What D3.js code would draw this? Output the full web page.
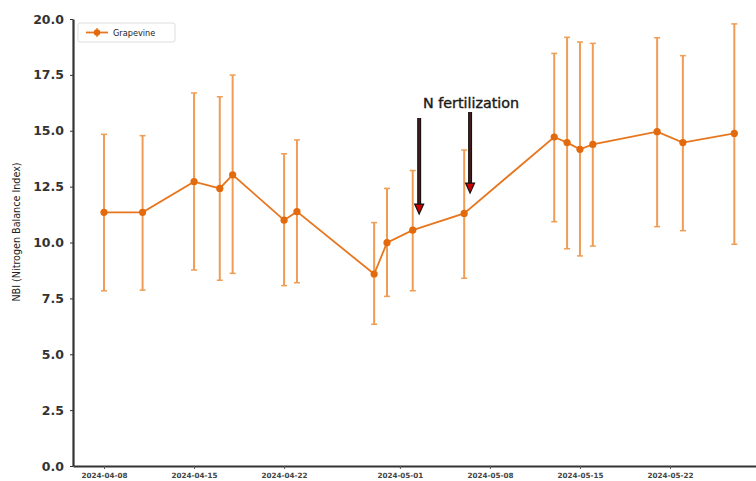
<!DOCTYPE html>
<html><head><meta charset="utf-8">
<script src="https://cdn.jsdelivr.net/npm/d3@7"></script>
<style>html,body{margin:0;padding:0;background:#fff;}svg{display:block;}</style>
</head><body>
<svg id="chart" width="756" height="481"></svg>
<script>
const dates = ["2024-04-08","2024-04-11","2024-04-15","2024-04-17","2024-04-18","2024-04-22","2024-04-23","2024-04-29","2024-04-30","2024-05-02","2024-05-06","2024-05-13","2024-05-14","2024-05-15","2024-05-16","2024-05-21","2024-05-23","2024-05-27"];
const nbiMean = [11.35,11.35,12.72,12.42,13.03,11.0,11.38,8.59,9.99,10.55,11.3,14.72,14.47,14.17,14.39,14.96,14.47,14.88];
const nbiLow  = [7.84,7.87,8.77,8.31,8.62,8.07,8.2,6.34,7.59,7.84,8.4,10.93,9.72,9.4,9.84,10.71,10.53,9.92];
const nbiHigh = [14.84,14.78,16.69,16.52,17.49,13.97,14.59,10.89,12.42,13.22,14.14,18.46,19.18,18.97,18.91,19.16,18.36,19.78];
const xTickLabels = ["2024-04-08","2024-04-15","2024-04-22","2024-05-01","2024-05-08","2024-05-15","2024-05-22"];
const yTicks = [0,2.5,5,7.5,10,12.5,15,17.5,20];
const seriesName = "Grapevine";
const annotationText = "N fertilization";
const arrowDates = ["2024-05-02T12:00","2024-05-06T11:00"];
const arrowTails = [15.57,15.84];
const arrowTips = [11.27,12.21];

const parse = d3.timeParse("%Y-%m-%d");
const parseT = d3.timeParse("%Y-%m-%dT%H:%M");
const svg = d3.select("#chart");
const lineColor = "#e8761e", barColor = "#ef9d55", dotColor = "#e26a0d";

const x0 = d3.scaleTime().domain([parse("2024-04-08"), parse("2024-05-22")]).range([104, 670]);
const x = d3.scaleTime().domain([x0.invert(73), x0.invert(760)]).range([73, 760]);
const y = d3.scaleLinear().domain([0, 20]).range([466, 19]);

const data = dates.map((d,i)=>({d:parse(d), m:nbiMean[i], lo:nbiLow[i], hi:nbiHigh[i]}));

// error bars
const eb = svg.append("g");
data.forEach(p=>{
  const cx = x(p.d);
  eb.append("line").attr("x1",cx).attr("x2",cx).attr("y1",y(p.lo)).attr("y2",y(p.hi))
    .attr("stroke",barColor).attr("stroke-width",2);
  [p.lo,p.hi].forEach(v=>eb.append("line").attr("x1",cx-3).attr("x2",cx+3).attr("y1",y(v)).attr("y2",y(v))
    .attr("stroke",barColor).attr("stroke-width",1.5));
});
// line
svg.append("path").datum(data)
  .attr("d", d3.line().x(p=>x(p.d)).y(p=>y(p.m)))
  .attr("fill","none").attr("stroke",lineColor).attr("stroke-width",1.8);
svg.append("g").selectAll("circle").data(data).join("circle")
  .attr("cx",p=>x(p.d)).attr("cy",p=>y(p.m)).attr("r",3.6).attr("fill",dotColor);

// axes
const yAxis = d3.axisLeft(y).tickValues(yTicks).tickFormat(d3.format(".1f")).tickSize(3).tickSizeOuter(0);
const gy = svg.append("g").attr("transform","translate(73,0)").call(yAxis);
gy.select(".domain").attr("stroke","#333").attr("stroke-width",2.2);
gy.selectAll(".tick line").attr("stroke","#333");
gy.selectAll(".tick text").attr("font-family","DejaVu Sans").attr("font-weight","bold").attr("font-size",12.5).attr("fill","#333").attr("x",-9);

const xAxis = d3.axisBottom(x).tickValues(xTickLabels.map(parse)).tickFormat(d3.timeFormat("%Y-%m-%d")).tickSize(3).tickSizeOuter(0);
const gx = svg.append("g").attr("transform","translate(0,466)").call(xAxis);
gx.select(".domain").attr("stroke","#333").attr("stroke-width",2.2);
gx.selectAll(".tick line").attr("stroke","#555");
gx.selectAll(".tick text").attr("font-family","DejaVu Sans").attr("font-weight","bold").attr("font-size",7.2).attr("fill","#444").attr("dy","0.9em");

svg.append("text").attr("transform","translate(20,232) rotate(-90)")
  .attr("text-anchor","middle").attr("font-family","DejaVu Sans").attr("font-size",9.6).attr("fill","#222")
  .text("NBI (Nitrogen Balance Index)");

// annotations
arrowDates.forEach((ds,i)=>{
  const ax = x(parseT(ds)), yt = y(arrowTails[i]), yh = y(arrowTips[i]);
  svg.append("line").attr("x1",ax).attr("x2",ax).attr("y1",yt).attr("y2",yh-9)
    .attr("stroke","#1a1010").attr("stroke-width",4);
  svg.append("line").attr("x1",ax).attr("x2",ax).attr("y1",yt).attr("y2",yh-9)
    .attr("stroke","#4a2020").attr("stroke-width",1.5);
  svg.append("path").attr("d",`M${ax-4.5},${yh-10} L${ax+4.5},${yh-10} L${ax},${yh} Z`)
    .attr("fill","#d00000").attr("stroke","#1a1010").attr("stroke-width",1.2);
});
svg.append("text").attr("x",471).attr("y",y(16.0)).attr("text-anchor","middle")
  .attr("font-family","DejaVu Sans").attr("font-size",14.3).attr("fill","#1a1a1a")
  .attr("stroke","#1a1a1a").attr("stroke-width",0.4).text(annotationText);

// legend
const lg = svg.append("g");
lg.append("rect").attr("x",78).attr("y",23).attr("width",97).attr("height",19).attr("rx",2)
  .attr("fill","#fff").attr("stroke","#ddd").attr("stroke-width",1);
lg.append("line").attr("x1",86).attr("x2",108).attr("y1",32.5).attr("y2",32.5).attr("stroke",lineColor).attr("stroke-width",1.8);
lg.append("line").attr("x1",97).attr("x2",97).attr("y1",28).attr("y2",37).attr("stroke",barColor).attr("stroke-width",1.8);
lg.append("circle").attr("cx",97).attr("cy",32.5).attr("r",3.2).attr("fill",dotColor);
lg.append("text").attr("x",113).attr("y",35.5).attr("font-family","DejaVu Sans").attr("font-size",8.2).attr("fill","#222").text(seriesName);
</script>
</body></html>
